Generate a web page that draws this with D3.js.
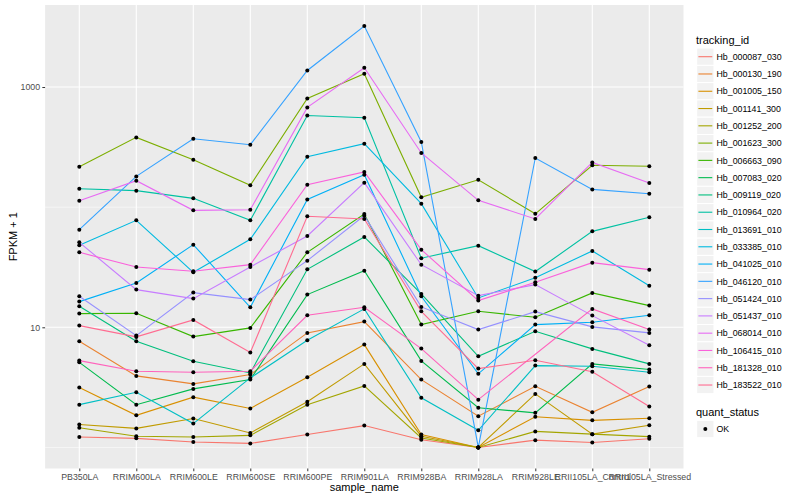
<!DOCTYPE html>
<html><head><meta charset="utf-8">
<script src="https://cdn.jsdelivr.net/npm/d3@7"></script>
<style>
body{margin:0;background:#fff}
text{font-family:"Liberation Sans",Arial,Helvetica,sans-serif}
</style>
</head><body>
<svg id="chart" width="800" height="500"></svg>
<script>
// ---------- data ----------
const samples = ["PB350LA","RRIM600LA","RRIM600LE","RRIM600SE","RRIM600PE","RRIM901LA",
  "RRIM928BA","RRIM928LA","RRIM928LE","RRII105LA_Control","RRII105LA_Stressed"];
const trackingIds = ["Hb_000087_030","Hb_000130_190","Hb_001005_150","Hb_001141_300","Hb_001252_200",
  "Hb_001623_300","Hb_006663_090","Hb_007083_020","Hb_009119_020","Hb_010964_020","Hb_013691_010",
  "Hb_033385_010","Hb_041025_010","Hb_046120_010","Hb_051424_010","Hb_051437_010","Hb_068014_010",
  "Hb_106415_010","Hb_181328_010","Hb_183522_010"];
const seriesColors = ["#F8766D","#EA8331","#D89000","#C09B00","#A3A500","#7CAE00","#39B600","#00BB4E",
  "#00BF7D","#00C1A3","#00BFC4","#00BAE0","#00B0F6","#35A2FF","#9590FF","#C77CFF","#E76BF3","#FA62DB",
  "#FF62BC","#FF6C91"];
// FPKM per sample (order of `samples`); null = no value for that sample
const Hb_000087_030 = [0.22, 0.19, 0.11, 0.08, 0.28, 0.52, 0.16, 0, 0.15, 0.10, 0.18];
const Hb_000130_190 = [6.65, 2.94, 2.38, 3.04, 7.98, 10.15, 2.67, 0.82, 2.23, 0.96, 2.21];
const Hb_001005_150 = [2.15, 0.85, 1.62, 1.11, 2.84, 6.18, 0.28, 0, 0.80, 0.68, 0.75];
const Hb_001141_300 = [0.55, 0.44, 0.74, 0.32, 1.40, 3.96, 0.24, 0, 1.79, 0.29, 0.53];
const Hb_001252_200 = [0.46, 0.24, 0.22, 0.26, 1.27, 2.25, 0.20, 0, 0.36, 0.29, 0.23];
const Hb_001623_300 = [216, 380, 247, 151, 803, 1289, 120, 168, 87, 222, 218];
const Hb_006663_090 = [12.0, 12.08, 7.37, 8.89, 41.07, 86.8, 9.53, 12.59, 11.11, 18.33, 14.15];
const Hb_007083_020 = [4.11, 1.27, 2.07, 2.67, 17.71, 28.63, 4.25, 1.14, 0.94, 3.96, 3.45];
const Hb_009119_020 = [13.95, 6.65, 4.21, 3.17, 29.38, 55.5, 17.96, 4.74, 8.26, 5.61, 3.96];
const Hb_010964_020 = [141.5, 136.2, 117.4, 76.7, 579, 554, 36.6, 46.8, 28.1, 61.9, 81.3];
const Hb_013691_010 = [1.27, 1.88, 0.58, 2.79, 6.80, 13.23, 1.59, 0.39, 3.80, 3.74, 3.22];
const Hb_033385_010 = [47.1, 76.7, 27.7, 53.0, 262, 336.6, 105.9, 16.56, 24.8, 42.2, 21.2];
const Hb_041025_010 = [15.36, 22.4, 47.75, 13.67, 115.1, 185.4, 17.11, 3.10, 9.53, 10.0, 11.58];
const Hb_046120_010 = [64, 179.4, 370.5, 330.1, 1373, 3216, 347.6, 0, 255.7, 139.6, 128.5];
const Hb_051424_010 = [17.11, 7.53, 18.44, 16.0, 34.88, 84.0, 13.78, 8.57, 12.51, 9.08, 7.98];
const Hb_051437_010 = [49.95, 19.59, 16.33, 30.8, 56.6, 158.9, 32.2, 17.35, 21.66, 11.51, 6.08];
const Hb_068014_010 = [112.3, 165.2, 93.1, 94.3, 675.6, 1446, 281.4, 112.9, 78.8, 234.9, 157.9];
const Hb_106415_010 = [41.07, 30.8, 28.24, 32.23, 152.9, 195.3, 43.3, 15.68, 22.68, 33.53, 29.2];
const Hb_181328_010 = [4.28, 3.31, 3.22, 3.31, 11.58, 13.67, 5.65, 1.50, null, 13.23, 8.57];
const Hb_183522_010 = [9.33, 7.32, 10.52, 5.16, 82.9, 78.8, 12.59, 3.53, 4.31, 3.26, 1.19];
const yMajorBreaks = [10, 1000];
const yMajorLabels = ["10", "1000"];
const yMinorBreaks = [1, 100];
const quantStatus = ["OK"];

const seriesValues = [Hb_000087_030,Hb_000130_190,Hb_001005_150,Hb_001141_300,Hb_001252_200,
  Hb_001623_300,Hb_006663_090,Hb_007083_020,Hb_009119_020,Hb_010964_020,Hb_013691_010,Hb_033385_010,
  Hb_041025_010,Hb_046120_010,Hb_051424_010,Hb_051437_010,Hb_068014_010,Hb_106415_010,Hb_181328_010,
  Hb_183522_010];
const series = trackingIds.map((id, i) => ({
  id, color: seriesColors[i],
  points: samples.map((s, j) => ({sample: s, v: seriesValues[i][j]}))
                 .filter(p => p.v !== null).map(p => ({sample: p.sample, y: p.v + 1}))
}));

// ---------- layout ----------
const svg = d3.select("#chart");
const P = {left: 45.1, right: 683.5, top: 5, bottom: 468.5};

const x = d3.scalePoint().domain(samples).range([P.left, P.right]).padding(0.6);
const allY = series.flatMap(s => s.points.map(p => p.y));
const lmin = Math.log10(d3.min(allY)), lmax = Math.log10(d3.max(allY));
const ex = (lmax - lmin) * 0.05;
const y = d3.scaleLog().domain([Math.pow(10, lmin - ex), Math.pow(10, lmax + ex)]).range([P.bottom, P.top]);

// panel
svg.append("rect").attr("x", P.left).attr("y", P.top)
  .attr("width", P.right - P.left).attr("height", P.bottom - P.top).attr("fill", "#EBEBEB");
const grid = svg.append("g");
yMinorBreaks.forEach(b => grid.append("line").attr("x1", P.left).attr("x2", P.right)
  .attr("y1", y(b)).attr("y2", y(b)).attr("stroke", "#fff").attr("stroke-width", 0.55));
yMajorBreaks.forEach(b => grid.append("line").attr("x1", P.left).attr("x2", P.right)
  .attr("y1", y(b)).attr("y2", y(b)).attr("stroke", "#fff").attr("stroke-width", 1.1));
samples.forEach(s => grid.append("line").attr("x1", x(s)).attr("x2", x(s))
  .attr("y1", P.top).attr("y2", P.bottom).attr("stroke", "#fff").attr("stroke-width", 1.1));

// lines
const line = d3.line().x(d => x(d.sample)).y(d => y(d.y));
const gl = svg.append("g");
series.forEach(s => gl.append("path").attr("d", line(s.points)).attr("fill", "none")
  .attr("stroke", s.color).attr("stroke-width", 1.1));
// points
const gp = svg.append("g");
series.forEach(s => s.points.forEach(p => gp.append("circle")
  .attr("cx", x(p.sample)).attr("cy", y(p.y)).attr("r", 2).attr("fill", "#000")));

// axes
const yAxis = d3.axisLeft(y).tickValues(yMajorBreaks).tickFormat((d, i) => yMajorLabels[i])
  .tickSize(2.75).tickPadding(2.2);
const gy = svg.append("g").attr("transform", `translate(${P.left},0)`).call(yAxis);
gy.select(".domain").remove();
gy.selectAll("line").attr("stroke", "#333");
gy.selectAll("text").attr("fill", "#4D4D4D").attr("font-size", 8.8);

const xAxis = d3.axisBottom(x).tickSize(2.75).tickPadding(2.2);
const gx = svg.append("g").attr("transform", `translate(0,${P.bottom})`).call(xAxis);
gx.select(".domain").remove();
gx.selectAll("line").attr("stroke", "#333");
gx.selectAll("text").attr("fill", "#4D4D4D").attr("font-size", 8.8);

svg.append("text").attr("x", (P.left + P.right) / 2).attr("y", 491)
  .attr("text-anchor", "middle").attr("font-size", 11).text("sample_name");
svg.append("text").attr("transform", `translate(16.5,${(P.top + P.bottom) / 2}) rotate(-90)`)
  .attr("text-anchor", "middle").attr("font-size", 11).text("FPKM + 1");

// legend: tracking_id
const lg = svg.append("g");
const kx = 696.7, kw = 17.28, k0 = 56.7;
lg.append("text").attr("x", 696).attr("y", 43.5).attr("font-size", 11).text("tracking_id");
series.forEach((s, i) => {
  const cy = k0 + i * kw;
  lg.append("rect").attr("x", kx).attr("y", cy - kw / 2).attr("width", kw).attr("height", kw)
    .attr("fill", "#F2F2F2").attr("stroke", "#fff").attr("stroke-width", 1);
  lg.append("line").attr("x1", kx + 1.7).attr("x2", kx + kw - 1.7).attr("y1", cy).attr("y2", cy)
    .attr("stroke", s.color).attr("stroke-width", 1.1);
  lg.append("text").attr("x", 716.5).attr("y", cy + 3.2).attr("font-size", 8.8).text(s.id);
});
// legend: quant_status
lg.append("text").attr("x", 696).attr("y", 415.5).attr("font-size", 11).text("quant_status");
quantStatus.forEach((q, i) => {
  const cy = 429 + i * kw;
  lg.append("rect").attr("x", kx).attr("y", cy - kw / 2).attr("width", kw).attr("height", kw)
    .attr("fill", "#F2F2F2").attr("stroke", "#fff").attr("stroke-width", 1);
  lg.append("circle").attr("cx", kx + kw / 2).attr("cy", cy).attr("r", 2).attr("fill", "#000");
  lg.append("text").attr("x", 716.5).attr("y", cy + 3.2).attr("font-size", 8.8).text(q);
});
</script>
</body></html>
